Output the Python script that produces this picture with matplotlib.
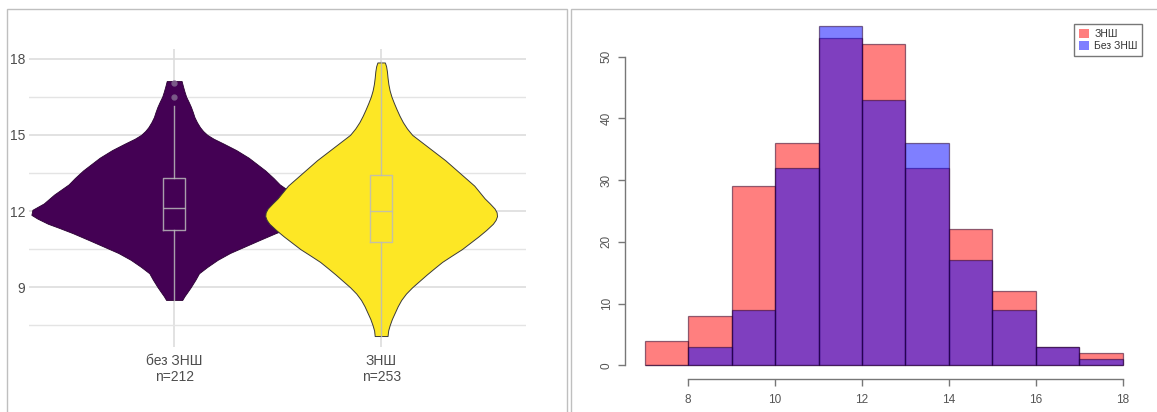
import matplotlib.pyplot as plt
import numpy as np
from matplotlib.patches import Patch, Rectangle

plt.rcParams['font.family'] = ['Liberation Sans', 'DejaVu Sans']

W, H = 1157, 412

# violin outlines: value levels and half widths (x units)
bez_levels = [8.5, 8.65, 8.8, 9.0, 9.3, 9.55, 9.8, 10.08, 10.35, 10.6, 10.85, 11.13, 11.35,
              11.5, 11.7, 11.85, 12.05, 12.3, 12.65, 13.05, 13.3, 13.6, 13.85, 14.1, 14.4,
              14.65, 14.85, 15.0, 15.15, 15.3, 15.5, 15.7, 15.9, 16.1, 16.3, 16.5, 16.7,
              16.9, 17.12]
bez_half = [0.039, 0.05, 0.063, 0.08, 0.103, 0.12, 0.16, 0.21, 0.27, 0.34, 0.41, 0.49, 0.56,
            0.61, 0.66, 0.69, 0.685, 0.63, 0.58, 0.51, 0.48, 0.44, 0.40, 0.36, 0.30,
            0.24, 0.19, 0.16, 0.14, 0.125, 0.11, 0.098, 0.09, 0.081, 0.07, 0.058, 0.05,
            0.043, 0.036]
znsh_levels = [7.08, 7.3, 7.5, 7.75, 8.0, 8.25, 8.5, 8.75, 9.0, 9.25, 9.5, 9.75, 10.0,
               10.25, 10.5, 10.75, 11.0, 11.25, 11.5, 11.65, 11.8, 11.95, 12.1, 12.3, 12.5,
               12.75, 13.0, 13.25, 13.5, 13.75, 14.0, 14.25, 14.5, 14.75, 15.0, 15.25, 15.5,
               15.75, 16.0, 16.25, 16.5, 16.75, 17.0, 17.25, 17.5, 17.7, 17.85]
znsh_half = [0.031, 0.034, 0.041, 0.052, 0.066, 0.08, 0.097, 0.12, 0.15, 0.185, 0.22, 0.257,
             0.295, 0.342, 0.39, 0.43, 0.47, 0.507, 0.54, 0.553, 0.56, 0.558, 0.548, 0.525,
             0.50, 0.475, 0.45, 0.415, 0.38, 0.345, 0.31, 0.27, 0.23, 0.19, 0.15, 0.125,
             0.105, 0.089, 0.075, 0.062, 0.05, 0.041, 0.035, 0.031, 0.028, 0.024, 0.018]

group_labels = ['без ЗНШ\nn=212', 'ЗНШ\nn=253']
box_q1 = [11.26, 10.8]
box_med = [12.13, 12.0]
box_q3 = [13.32, 13.42]
whisk_lo = [8.5, 7.08]
whisk_hi = [16.14, 17.85]
outliers = [[16.5, 17.05], []]

# histogram
bin_edges = [7, 8, 9, 10, 11, 12, 13, 14, 15, 16, 17, 18]
znsh_counts = [4, 8, 29, 36, 53, 52, 32, 22, 12, 3, 2]
bez_counts = [0, 3, 9, 32, 55, 43, 36, 17, 9, 3, 1]


def px_rect(x0, x1, y0, y1):
    # pixel box (top-left origin) -> figure fraction rect
    return [x0 / W, 1 - y1 / H, (x1 - x0) / W, (y1 - y0) / H]


fig = plt.figure(figsize=(W / 100, H / 100), dpi=100)

# panel frames
fig.add_artist(Rectangle((7.3 / W, -0.1), 559.4 / W, 1.1 - 9.3 / H, transform=fig.transFigure,
                         fill=False, ec='#BFBFBF', lw=1))
fig.add_artist(Rectangle((570.5 / W, -0.1), 0.6, 1.1 - 9.3 / H, transform=fig.transFigure,
                         fill=False, ec='#BFBFBF', lw=1))

# ---- left: violins
ax = fig.add_axes(px_rect(29.3, 526, 49, 346.7))
ax.set_xlim(0.3, 2.7)
ax.set_ylim(6.66, 18.38)
ax.set_yticks([9, 12, 15, 18])
ax.set_yticks([7.5, 10.5, 13.5, 16.5], minor=True)
ax.set_xticks([1, 2])
ax.set_xticklabels(group_labels)
ax.grid(which='major', color='#DDDDDD', lw=1.2, zorder=0)
ax.grid(which='minor', axis='y', color='#E4E4E4', lw=1.0, zorder=0)
ax.set_axisbelow(True)
for s in ax.spines.values():
    s.set_visible(False)
ax.tick_params(which='both', length=0, labelsize=10, labelcolor='#4D4D4D')
ax.tick_params(axis='y', pad=3)
ax.tick_params(axis='x', pad=5)

b = np.array(bez_half)
ax.fill_betweenx(bez_levels, 1 - b, 1 + b, color='#440154', ec='#2a0033', lw=0.6, zorder=2)
z = np.array(znsh_half)
ax.fill_betweenx(znsh_levels, 2 - z, 2 + z, color='#FDE725', ec='#3a3a3a', lw=0.7, zorder=2)

stats = []
for i in range(2):
    stats.append(dict(q1=box_q1[i], med=box_med[i], q3=box_q3[i],
                      whislo=whisk_lo[i], whishi=whisk_hi[i], fliers=outliers[i]))
line = dict(color='#BBBBBB', lw=1.0, alpha=0.85)
ax.bxp(stats, positions=[1, 2], widths=0.105, showcaps=False, manage_ticks=False,
       boxprops=line, whiskerprops=line, medianprops=line,
       flierprops=dict(marker='o', markersize=3.5, markerfacecolor='#7A5A88',
                       markeredgecolor='#7A5A88'), zorder=3)

# ---- right: histogram
ax2 = fig.add_axes(px_rect(625.4, 1142.1, 12.3, 378.8))
lefts = bin_edges[:-1]
ax2.bar(lefts, znsh_counts, width=1, align='edge', color=(1, 0, 0, 0.5),
        ec=(0.2, 0, 0.15, 0.55), lw=0.9)
ax2.bar(lefts, bez_counts, width=1, align='edge', color=(0, 0, 1, 0.5),
        ec=(0.15, 0, 0.2, 0.55), lw=0.9)
ax2.set_xlim(6.56, 18.44)
ax2.set_ylim(-2.2, 57.2)
ax2.set_xticks([8, 10, 12, 14, 16, 18])
ax2.set_yticks([0, 10, 20, 30, 40, 50])
ax2.spines['top'].set_visible(False)
ax2.spines['right'].set_visible(False)
ax2.spines['left'].set_bounds(0, 50)
ax2.spines['bottom'].set_bounds(8, 18)
for s in ('left', 'bottom'):
    ax2.spines[s].set_color('#777777')
    ax2.spines[s].set_linewidth(1.0)
ax2.tick_params(axis='both', colors='#777777', labelcolor='#555555', labelsize=8.5,
                length=5, width=1)
ax2.tick_params(axis='y', pad=4, labelrotation=90)
for t in ax2.get_yticklabels():
    t.set_va('center')
ax2.tick_params(axis='x', pad=6)

handles = [Patch(fc=(1, 0, 0, 0.5), ec='none'), Patch(fc=(0, 0, 1, 0.5), ec='none')]
leg = ax2.legend(handles, ['ЗНШ', 'Без ЗНШ'], loc='upper right',
                 bbox_to_anchor=(1142.3 / W, 1 - 24.3 / H), bbox_transform=fig.transFigure,
                 fontsize=7.5, handlelength=0.95, handleheight=0.95, handletextpad=0.5,
                 labelspacing=0.2, borderpad=0.45, borderaxespad=0, fancybox=False,
                 framealpha=1, edgecolor='#777777')
leg.get_frame().set_linewidth(1.0)
for t in leg.get_texts():
    t.set_color('#333333')

fig.savefig('out.png', dpi=100)
